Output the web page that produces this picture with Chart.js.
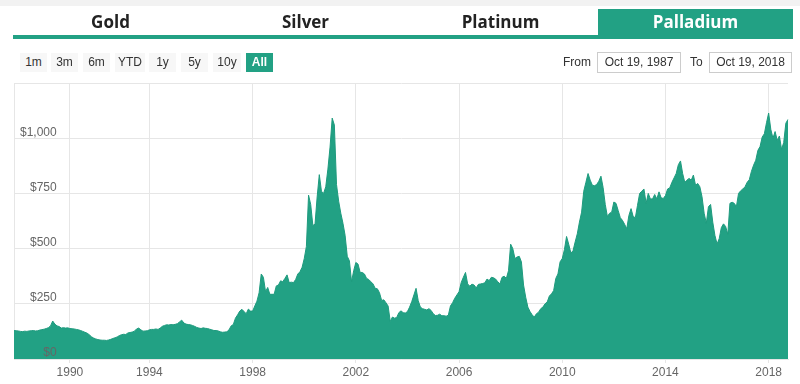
<!DOCTYPE html>
<html>
<head>
<meta charset="utf-8">
<script src="https://cdn.jsdelivr.net/npm/chart.js@4.4.0/dist/chart.umd.min.js"></script>
<style>
html,body{margin:0;padding:0;width:800px;height:384px;background:#fff;overflow:hidden;font-family:"Liberation Sans",Arial,sans-serif;}
#wrap{position:absolute;left:0;top:0;width:800px;height:384px;z-index:1;}
#topband{position:absolute;left:0;top:0;width:800px;height:6px;background:#f2f2f2;z-index:2;}
#tabs{position:absolute;left:13px;top:9px;width:780px;height:26px;display:flex;z-index:2;}
.tab{width:195px;height:26px;line-height:26px;text-align:center;font-family:"Open Sans",sans-serif;font-weight:700;font-size:17px;color:#222;}
.tab.active{background:#22a184;color:#fff;}
#tabbar{position:absolute;left:13px;top:35px;width:780px;height:4px;background:#22a184;z-index:2;}
.btn{position:absolute;top:53px;height:19px;line-height:19px;text-align:center;font-size:12px;color:#333;background:#f7f7f7;z-index:2;}
.btn.on{background:#22a184;color:#fff;font-weight:bold;}
.lbl{position:absolute;top:53px;height:19px;line-height:19px;font-size:12px;color:#333;z-index:2;}
.box{position:absolute;top:52px;height:19px;line-height:19px;border:1px solid #cccccc;text-align:center;font-size:12px;color:#333;background:#fff;z-index:2;}
</style>
</head>
<body>
<div id="wrap"><canvas id="c" width="800" height="384"></canvas></div>
<div id="topband"></div>
<div id="tabs">
  <div class="tab">Gold</div>
  <div class="tab">Silver</div>
  <div class="tab">Platinum</div>
  <div class="tab active">Palladium</div>
</div>
<div id="tabbar"></div>
<div class="btn" style="left:20px;width:27px">1m</div>
<div class="btn" style="left:51px;width:27px">3m</div>
<div class="btn" style="left:83px;width:27px">6m</div>
<div class="btn" style="left:115px;width:30px">YTD</div>
<div class="btn" style="left:149px;width:27px">1y</div>
<div class="btn" style="left:181px;width:27px">5y</div>
<div class="btn" style="left:213px;width:28px">10y</div>
<div class="btn on" style="left:246px;width:27px">All</div>
<div class="lbl" style="left:563px">From</div>
<div class="box" style="left:597px;width:82px">Oct 19, 1987</div>
<div class="lbl" style="left:690px">To</div>
<div class="box" style="left:709px;width:81px">Oct 19, 2018</div>
<script>
// Categories (observation months; 1990-1993 sparser, as in the ordinal source axis)
const dates = [
"1987-10","1987-12",
"1988-01","1988-02","1988-03","1988-04","1988-05","1988-06","1988-07","1988-08","1988-09","1988-10","1988-11","1988-12",
"1989-01","1989-02","1989-03","1989-04","1989-05","1989-06","1989-07","1989-08","1989-09","1989-10","1989-11","1989-12",
"1990-01","1990-02","1990-03","1990-05","1990-06","1990-07","1990-09","1990-10","1990-11",
"1991-01","1991-02","1991-03","1991-05","1991-06","1991-07","1991-09","1991-10","1991-11",
"1992-01","1992-02","1992-03","1992-05","1992-06","1992-07","1992-09","1992-10","1992-11",
"1993-01","1993-02","1993-03","1993-05","1993-06","1993-07","1993-08","1993-09","1993-10","1993-11",
"1994-01","1994-02","1994-03","1994-04","1994-05","1994-06","1994-07","1994-08","1994-09","1994-10","1994-11","1994-12",
"1995-01","1995-02","1995-03","1995-04","1995-05","1995-06","1995-07","1995-08","1995-09","1995-10","1995-11","1995-12",
"1996-01","1996-02","1996-03","1996-04","1996-05","1996-06","1996-07","1996-08","1996-09","1996-10","1996-11","1996-12",
"1997-01","1997-02","1997-03","1997-04","1997-05","1997-06","1997-07","1997-08","1997-09","1997-10","1997-11","1997-12",
"1998-01","1998-02","1998-03","1998-04","1998-05","1998-06","1998-07","1998-08","1998-09","1998-10","1998-11","1998-12",
"1999-01","1999-02","1999-03","1999-04","1999-05","1999-06","1999-07","1999-08","1999-09","1999-10","1999-11","1999-12",
"2000-01","2000-02","2000-03","2000-04","2000-05","2000-06","2000-07","2000-08","2000-09","2000-10","2000-11","2000-12",
"2001-01","2001-02","2001-03","2001-04","2001-05","2001-06","2001-07","2001-08","2001-09","2001-10","2001-11","2001-12",
"2002-01","2002-02","2002-03","2002-04","2002-05","2002-06","2002-07","2002-08","2002-09","2002-10","2002-11","2002-12",
"2003-01","2003-02","2003-03","2003-04","2003-05","2003-06","2003-07","2003-08","2003-09","2003-10","2003-11","2003-12",
"2004-01","2004-02","2004-03","2004-04","2004-05","2004-06","2004-07","2004-08","2004-09","2004-10","2004-11","2004-12",
"2005-01","2005-02","2005-03","2005-04","2005-05","2005-06","2005-07","2005-08","2005-09","2005-10","2005-11","2005-12",
"2006-01","2006-02","2006-03","2006-04","2006-05","2006-06","2006-07","2006-08","2006-09","2006-10","2006-11","2006-12",
"2007-01","2007-02","2007-03","2007-04","2007-05","2007-06","2007-07","2007-08","2007-09","2007-10","2007-11","2007-12",
"2008-01","2008-02","2008-03","2008-04","2008-05","2008-06","2008-07","2008-08","2008-09","2008-10","2008-11","2008-12",
"2009-01","2009-02","2009-03","2009-04","2009-05","2009-06","2009-07","2009-08","2009-09","2009-10","2009-11","2009-12",
"2010-01","2010-02","2010-03","2010-04","2010-05","2010-06","2010-07","2010-08","2010-09","2010-10","2010-11","2010-12",
"2011-01","2011-02","2011-03","2011-04","2011-05","2011-06","2011-07","2011-08","2011-09","2011-10","2011-11","2011-12",
"2012-01","2012-02","2012-03","2012-04","2012-05","2012-06","2012-07","2012-08","2012-09","2012-10","2012-11","2012-12",
"2013-01","2013-02","2013-03","2013-04","2013-05","2013-06","2013-07","2013-08","2013-09","2013-10","2013-11","2013-12",
"2014-01","2014-02","2014-03","2014-04","2014-05","2014-06","2014-07","2014-08","2014-09","2014-10","2014-11","2014-12",
"2015-01","2015-02","2015-03","2015-04","2015-05","2015-06","2015-07","2015-08","2015-09","2015-10","2015-11","2015-12",
"2016-01","2016-02","2016-03","2016-04","2016-05","2016-06","2016-07","2016-08","2016-09","2016-10","2016-11","2016-12",
"2017-01","2017-02","2017-03","2017-04","2017-05","2017-06","2017-07","2017-08","2017-09","2017-10","2017-11","2017-12",
"2018-01","2018-02","2018-03","2018-04","2018-05","2018-06","2018-07","2018-08","2018-09","2018-10"
];

// Palladium price, USD per ounce
const prices = [
129,128,
127,125,124,126,125,127,128,129,127,128,131,133,
135,138,142,150,172,158,150,147,140,142,140,141,
138,137,136,134,132,129,125,121,117,
110,101,95,91,88,86,85,85,84,
86,89,93,96,100,106,110,112,111,
118,120,122,126,136,140,132,126,127,128,
132,134,134,136,134,140,148,152,155,154,156,155,
157,160,168,176,163,158,156,155,152,148,143,140,
138,141,139,138,135,132,129,129,127,123,121,122,
123,132,150,156,185,200,217,225,215,205,226,217,
217,240,262,300,385,370,305,324,293,293,293,331,
335,354,350,365,381,346,348,346,360,385,395,415,
455,510,742,700,605,610,734,835,760,750,780,860,
960,1091,1060,790,715,660,615,560,465,445,350,400,
437,430,392,392,385,365,360,350,340,320,318,300,
265,268,255,240,170,190,185,188,210,218,210,208,
215,235,260,290,320,265,235,228,225,222,228,220,
205,197,198,203,196,196,194,198,240,255,275,290,
305,346,370,392,340,330,339,335,322,338,340,342,
345,362,355,370,368,362,350,340,370,375,365,400,
520,500,455,462,465,440,335,280,235,215,200,190,
205,212,228,235,250,258,285,295,310,365,385,440,
455,495,555,520,480,490,530,567,620,665,760,800,
840,810,787,785,790,805,828,777,700,645,660,665,
711,705,673,640,628,610,590,650,681,645,640,696,
750,760,770,705,750,725,725,745,725,757,730,727,
740,770,775,800,820,840,880,897,840,800,810,818,
810,833,787,795,780,735,660,615,690,700,620,560,
521,545,595,612,600,565,705,710,705,690,750,762,
770,780,800,812,850,878,900,945,962,1005,1020,1070,
1114,1040,1000,1030,990,1010,950,980,1068,1085
];

// Tick labels
const xTickLabels = ["1990","1994","1998","2002","2006","2010","2014","2018"];
const yTickValues = [0, 250, 500, 750, 1000, 1250];
const yTickLabels = ["$0", "$250", "$500", "$750", "$1,000", ""];

const xTickIndex = xTickLabels.map(y => dates.findIndex(d => d.startsWith(y)));

const green = "#22a184";
const gridColor = "#e6e6e6";
const labelFont = {family: "'Liberation Sans', Arial, sans-serif", size: 12};

new Chart(document.getElementById("c"), {
  type: "line",
  data: {
    labels: dates,
    datasets: [{
      data: prices,
      borderColor: "#1f9b7e",
      borderWidth: 1,
      backgroundColor: green,
      fill: "origin",
      pointRadius: 0,
      tension: 0
    }]
  },
  options: {
    responsive: false,
    animation: false,
    layout: {padding: {top: 83, left: 2, right: 12, bottom: 2.6}},
    plugins: {legend: {display: false}, tooltip: {enabled: false}},
    scales: {
      x: {
        type: "category",
        offset: false,
        afterBuildTicks: (scale) => { scale.ticks = xTickIndex.map(i => ({value: i})); },
        grid: {color: gridColor, tickLength: 4, tickColor: gridColor, drawOnChartArea: true},
        border: {color: gridColor},
        ticks: {
          autoSkip: false, maxRotation: 0, padding: 2,
          color: "#666", font: labelFont,
          callback: (v, i) => xTickLabels[i]
        }
      },
      y: {
        type: "linear",
        min: 0, max: 1250,
        afterBuildTicks: (scale) => { scale.ticks = yTickValues.map(v => ({value: v})); },
        grid: {color: gridColor, drawTicks: false},
        border: {display: true, color: gridColor},
        ticks: {
          mirror: true, crossAlign: "far", padding: 6, labelOffset: -6, z: 1,
          color: "#666", font: labelFont,
          callback: (v, i) => yTickLabels[i]
        }
      }
    }
  }
});
</script>
</body>
</html>
